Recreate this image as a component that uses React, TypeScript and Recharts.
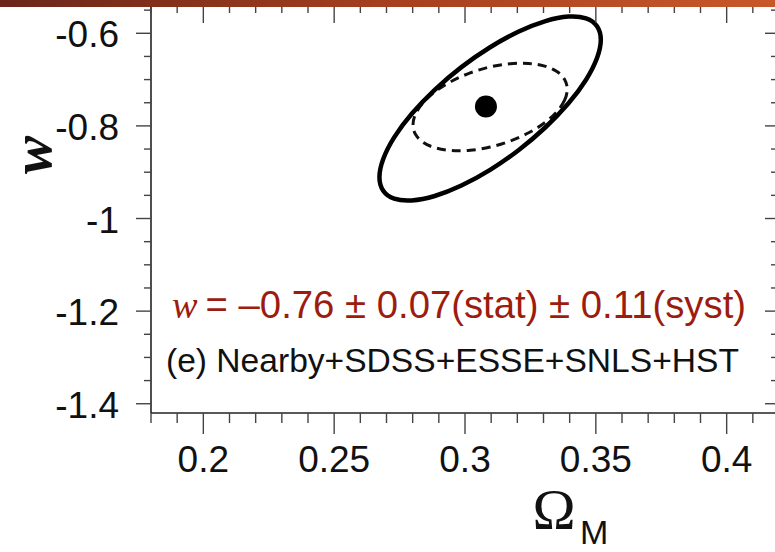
import React from 'react';
import { ComposedChart, Line, Scatter, XAxis, YAxis } from 'recharts';

// ---- data ----
const solidOmega = [0.3524, 0.3509, 0.3467, 0.3399, 0.3310, 0.3207, 0.3096, 0.2985, 0.2882, 0.2793, 0.2725, 0.2683, 0.2668, 0.2683, 0.2725, 0.2793, 0.2882, 0.2985, 0.3096, 0.3207, 0.3310, 0.3399, 0.3467, 0.3509];
const solidW = [-0.6124, -0.6522, -0.6995, -0.7510, -0.8034, -0.8530, -0.8964, -0.9307, -0.9535, -0.9633, -0.9594, -0.9421, -0.9126, -0.8728, -0.8255, -0.7740, -0.7216, -0.6720, -0.6286, -0.5943, -0.5715, -0.5617, -0.5656, -0.5829];
const dashedOmega = [0.3394, 0.3384, 0.3354, 0.3307, 0.3245, 0.3173, 0.3096, 0.3019, 0.2947, 0.2885, 0.2838, 0.2808, 0.2798, 0.2808, 0.2838, 0.2885, 0.2947, 0.3019, 0.3096, 0.3173, 0.3245, 0.3307, 0.3354, 0.3384];
const dashedW = [-0.7203, -0.7443, -0.7693, -0.7936, -0.8155, -0.8337, -0.8467, -0.8538, -0.8544, -0.8486, -0.8366, -0.8194, -0.7981, -0.7741, -0.7491, -0.7248, -0.7029, -0.6847, -0.6717, -0.6646, -0.6640, -0.6698, -0.6818, -0.6990];
const bestFitOmega = [0.308];
const bestFitW = [-0.758];

const xTicks = [0.18, 0.19, 0.2, 0.21, 0.22, 0.23, 0.24, 0.25, 0.26, 0.27, 0.28, 0.29, 0.3, 0.31, 0.32, 0.33, 0.34, 0.35, 0.36, 0.37, 0.38, 0.39, 0.4, 0.41, 0.42];
const xMajorTicks = [0.2, 0.25, 0.3, 0.35, 0.4];
const yTicks = [-1.4, -1.35, -1.3, -1.25, -1.2, -1.15, -1.1, -1.05, -1, -0.95, -0.9, -0.85, -0.8, -0.75, -0.7, -0.65, -0.6, -0.55];
const yMajorTicks = [-1.4, -1.2, -1, -0.8, -0.6];

const xDomain = [0.18, 0.42];
const yDomain = [-1.42, -0.54];

const annotationText = '= –0.76 ± 0.07(stat) ± 0.11(syst)';
const sampleText = '(e) Nearby+SDSS+ESSE+SNLS+HST';

// ---- built tables ----
const solidData = solidOmega.map((x, i) => ({ x, y: solidW[i] }));
const dashedData = dashedOmega.map((x, i) => ({ x, y: dashedW[i] }));
const bestFitData = bestFitOmega.map((x, i) => ({ x, y: bestFitW[i] }));

const SANS = '"Liberation Sans", Arial, Helvetica, sans-serif';
const SERIF = '"Liberation Serif", "Times New Roman", serif';
const TICK = '#444';

const isMajor = (list: number[], v: number) => list.some((m) => Math.abs(m - v) < 1e-6);

const BottomTick = (p: any) => {
  const { x, y, payload } = p;
  const major = isMajor(xMajorTicks, payload.value);
  return (
    <g>
      <line x1={x} x2={x} y1={y} y2={y + (major ? 21 : 10)} stroke={TICK} strokeWidth={1.4} />
      {major && (
        <text x={x} y={y + 59} textAnchor="middle" fontFamily={SANS} fontSize={37} fill="#111">
          {String(payload.value)}
        </text>
      )}
    </g>
  );
};

const TopTick = (p: any) => {
  const { x, y, payload } = p;
  const major = isMajor(xMajorTicks, payload.value);
  return <line x1={x} x2={x} y1={y} y2={y + (major ? 17.5 : 7.5)} stroke={TICK} strokeWidth={1.4} />;
};

const LeftTick = (p: any) => {
  const { x, y, payload } = p;
  const major = isMajor(yMajorTicks, payload.value);
  return (
    <g>
      <line x1={x - (major ? 15 : 7)} x2={x} y1={y} y2={y} stroke={TICK} strokeWidth={1.4} />
      {major && (
        <text x={x - 32} y={y + 14} textAnchor="end" fontFamily={SANS} fontSize={37} fill="#111">
          {String(payload.value)}
        </text>
      )}
    </g>
  );
};

const RightTick = (p: any) => {
  const { x, y, payload } = p;
  const major = isMajor(yMajorTicks, payload.value);
  return <line x1={x - (major ? 14 : 8)} x2={x} y1={y} y2={y} stroke={TICK} strokeWidth={1.4} />;
};

const axisLine = { stroke: '#222', strokeWidth: 1.6 };

export default function App() {
  return (
    <div style={{ position: 'absolute', left: 0, top: 0, width: 775, height: 552, overflow: 'hidden', background: '#fff' }}>
      <ComposedChart width={800} height={552} margin={{ top: 4.5, right: 20, bottom: 0, left: 0 }}>
        <XAxis xAxisId="b" type="number" dataKey="x" domain={xDomain} ticks={xTicks} interval={0} allowDataOverflow
          height={139} tickSize={0} tickMargin={0} tickLine={false} axisLine={axisLine} tick={BottomTick} />
        <XAxis xAxisId="t" orientation="top" type="number" dataKey="x" domain={xDomain} ticks={xTicks} interval={0} allowDataOverflow
          height={1} tickSize={0} tickMargin={0} tickLine={false} axisLine={axisLine} tick={TopTick} />
        <YAxis yAxisId="l" type="number" dataKey="y" domain={yDomain} ticks={yTicks} interval={0} allowDataOverflow
          width={151} tickSize={0} tickMargin={0} tickLine={false} axisLine={axisLine} tick={LeftTick} />
        <YAxis yAxisId="r" orientation="right" type="number" dataKey="y" domain={yDomain} ticks={yTicks} interval={0} allowDataOverflow
          width={1} tickSize={0} tickMargin={0} tickLine={false} axisLine={axisLine} tick={RightTick} />
        <Line xAxisId="b" yAxisId="l" data={dashedData} dataKey="y" type="basisClosed" stroke="#111" strokeWidth={3}
          strokeDasharray="9 6" dot={false} activeDot={false} isAnimationActive={false} />
        <Line xAxisId="b" yAxisId="l" data={solidData} dataKey="y" type="basisClosed" stroke="#000" strokeWidth={4.5}
          dot={false} activeDot={false} isAnimationActive={false} />
        <Scatter xAxisId="b" yAxisId="l" data={bestFitData} isAnimationActive={false}
          shape={(s: any) => <circle cx={s.cx} cy={s.cy} r={11} fill="#000" />} />
      </ComposedChart>
      <svg width={775} height={552} style={{ position: 'absolute', left: 0, top: 0, pointerEvents: 'none' }}>
        <defs>
          <linearGradient id="bar" x1="0" x2="1" y1="0" y2="0">
            <stop offset="0" stopColor="#6a2619" />
            <stop offset="0.5" stopColor="#a53f1f" />
            <stop offset="1" stopColor="#c8582a" />
          </linearGradient>
        </defs>
        <rect x={0} y={0} width={775} height={7} fill="url(#bar)" />
        <text x={51} y={155} transform="rotate(-90, 51, 155)" textAnchor="middle" fontFamily={SERIF}
          fontStyle="italic" fontWeight="bold" fontSize={57} fill="#111">w</text>
        <text x={554} y={529} textAnchor="middle" fontFamily={SERIF} fontSize={58} fill="#111">Ω</text>
        <text x={580} y={544} fontFamily={SANS} fontSize={34} fill="#111">M</text>
        <text x={172} y={318} fill="#9c1c0e" fontSize={38.3}>
          <tspan fontFamily={SERIF} fontStyle="italic">w</tspan>
          <tspan fontFamily={SANS} dx={8}>{annotationText}</tspan>
        </text>
        <text x={166} y={372} fontFamily={SANS} fontSize={33.6} fill="#111">{sampleText}</text>
      </svg>
    </div>
  );
}
